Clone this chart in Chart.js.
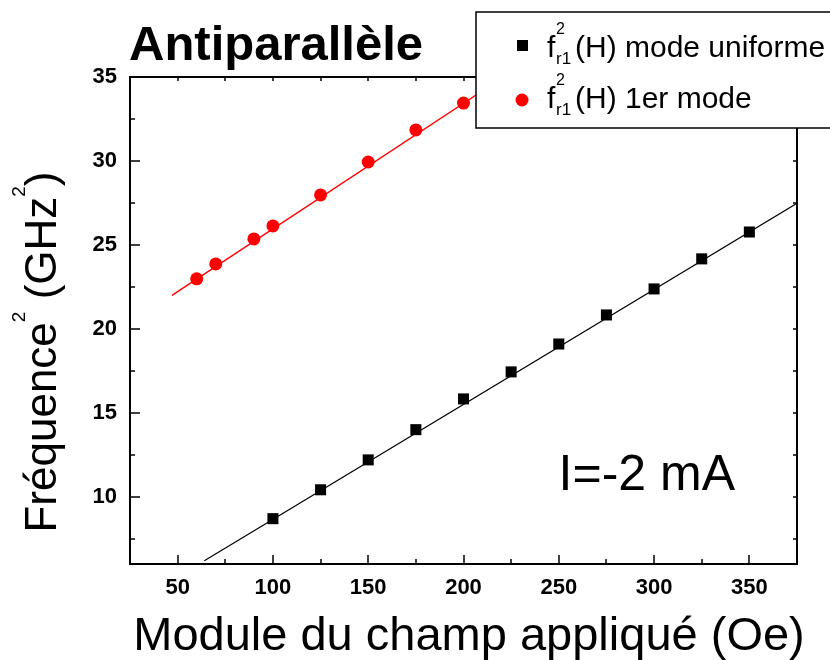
<!DOCTYPE html>
<html>
<head>
<meta charset="utf-8">
<script src="https://cdn.jsdelivr.net/npm/chart.js@4.4.1/dist/chart.umd.min.js"></script>
<style>
  body { margin: 0; background: #fff; }
</style>
</head>
<body>
<canvas id="grafik" width="830" height="660"></canvas>
<script>
const FONT = "'Liberation Sans', Arial, sans-serif";

// mode uniforme (carrés noirs)
const champUniforme = [100, 125, 150, 175, 200, 225, 250, 275, 300, 325, 350];
const freqUniforme = [8.7, 10.42, 12.2, 14.0, 15.83, 17.44, 19.1, 20.83, 22.38, 24.17, 25.77];
// 1er mode (ronds rouges)
const champPremier = [60, 70, 90, 100, 125, 150, 175, 200];
const freqPremier = [22.98, 23.87, 25.36, 26.13, 27.98, 29.94, 31.85, 33.45];
// droites d'ajustement (extrémités)
const champFitUniforme = [64, 375];
const freqFitUniforme = [6.2, 27.48];
const champFitPremier = [47, 221];
const freqFitPremier = [22.0, 35.0];

const xTicks = [50, 100, 150, 200, 250, 300, 350];
const xMinor = [75, 125, 175, 225, 275, 325];
const yTicks = [10, 15, 20, 25, 30, 35];
const yMinor = [7.5, 12.5, 17.5, 22.5, 27.5, 32.5];

function pts(xs, ys) {
    return xs.map((v, i) => ({ x: v, y: ys[i] }));
}

// texte avec indices / exposants
function drawRuns(ctx, runs, x, y) {
    let cx = x;
    runs.forEach(r => {
        ctx.font = r.size + 'px ' + FONT;
        ctx.fillText(r.t, cx, y - (r.dy || 0));
        cx += ctx.measureText(r.t).width;
    });
    return cx;
}
function runsWidth(ctx, runs) {
    let w = 0;
    runs.forEach(r => {
        ctx.font = r.size + 'px ' + FONT;
        w += ctx.measureText(r.t).width;
    });
    return w;
}

const decor = {
    id: 'decor',
    afterDraw(chart) {
        const { ctx, chartArea: a, scales: { x, y } } = chart;
        ctx.save();
        ctx.strokeStyle = '#000';
        ctx.fillStyle = '#000';

        // cadre
        ctx.lineWidth = 2;
        ctx.strokeRect(a.left, a.top, a.right - a.left, a.bottom - a.top);

        // graduations
        ctx.lineWidth = 1.5;
        ctx.beginPath();
        xTicks.forEach(v => {
            const px = Math.round(x.getPixelForValue(v));
            ctx.moveTo(px, a.bottom); ctx.lineTo(px, a.bottom - 9);
            ctx.moveTo(px, a.top); ctx.lineTo(px, a.top + 4);
        });
        xMinor.forEach(v => {
            const px = Math.round(x.getPixelForValue(v));
            ctx.moveTo(px, a.bottom); ctx.lineTo(px, a.bottom - 5);
            ctx.moveTo(px, a.top); ctx.lineTo(px, a.top + 4);
        });
        yTicks.forEach(v => {
            const py = Math.round(y.getPixelForValue(v));
            ctx.moveTo(a.left, py); ctx.lineTo(a.left + 10, py);
            ctx.moveTo(a.right, py); ctx.lineTo(a.right - 4, py);
        });
        yMinor.forEach(v => {
            const py = Math.round(y.getPixelForValue(v));
            ctx.moveTo(a.left, py); ctx.lineTo(a.left + 5, py);
            ctx.moveTo(a.right, py); ctx.lineTo(a.right - 4, py);
        });
        ctx.stroke();

        // titre
        ctx.textBaseline = 'alphabetic';
        ctx.textAlign = 'left';
        ctx.font = 'bold 49px ' + FONT;
        ctx.fillText('Antiparallèle', 129, 60);

        // courant
        ctx.font = '50px ' + FONT;
        ctx.textAlign = 'right';
        ctx.fillText('I=-2 mA', 735, 490);
        ctx.textAlign = 'left';

        // titre axe x
        ctx.font = '47px ' + FONT;
        ctx.textAlign = 'center';
        ctx.fillText('Module du champ appliqué (Oe)', 469, 650);
        ctx.textAlign = 'left';

        // titre axe y
        const yRuns = [
            { t: 'Fréquence', size: 44 },
            { t: '2', size: 19, dy: 31 },
            { t: ' (GHz', size: 44 },
            { t: '2', size: 19, dy: 31 },
            { t: ')', size: 44 }
        ];
        ctx.save();
        ctx.translate(56, 352);
        ctx.rotate(-Math.PI / 2);
        drawRuns(ctx, yRuns, -runsWidth(ctx, yRuns) / 2, 0);
        ctx.restore();

        // légende
        ctx.fillStyle = '#fff';
        ctx.fillRect(476, 12, 400, 116);
        ctx.lineWidth = 1.5;
        ctx.strokeRect(476, 12, 400, 116);
        ctx.fillStyle = '#000';
        ctx.fillRect(517, 40, 11, 11);
        ctx.fillStyle = '#ff0000';
        ctx.beginPath();
        ctx.arc(522, 100, 6.5, 0, Math.PI * 2);
        ctx.fill();
        ctx.fillStyle = '#000';
        const rows = [['(H) mode uniforme', 57], ['(H) 1er mode', 108]];
        rows.forEach(([txt, base]) => {
            drawRuns(ctx, [{ t: 'f', size: 30 }], 547, base);
            drawRuns(ctx, [{ t: '2', size: 16 }], 556, base - 23);
            drawRuns(ctx, [{ t: 'r1', size: 17 }], 556, base + 7);
            drawRuns(ctx, [{ t: txt, size: 30 }], 575, base);
        });
        ctx.restore();
    }
};

const ctx = document.getElementById('grafik').getContext('2d');
const chart = new Chart(ctx, {
    type: 'scatter',
    data: {
        datasets: [
            {
                label: 'ajustement uniforme',
                data: pts(champFitUniforme, freqFitUniforme),
                showLine: true,
                borderColor: '#000',
                borderWidth: 1.2,
                pointRadius: 0
            },
            {
                label: 'ajustement 1er mode',
                data: pts(champFitPremier, freqFitPremier),
                showLine: true,
                borderColor: '#ff0000',
                borderWidth: 1.4,
                pointRadius: 0
            },
            {
                label: 'f_r1^2(H) mode uniforme',
                data: pts(champUniforme, freqUniforme),
                pointStyle: 'rect',
                pointRadius: 7.8,
                backgroundColor: '#000',
                borderColor: '#000',
                borderWidth: 0
            },
            {
                label: 'f_r1^2(H) 1er mode',
                data: pts(champPremier, freqPremier),
                pointStyle: 'circle',
                pointRadius: 6.5,
                backgroundColor: '#ff0000',
                borderColor: '#ff0000',
                borderWidth: 0
            }
        ]
    },
    options: {
        responsive: false,
        animation: false,
        layout: { padding: { left: 0, right: 33, top: 77, bottom: 0 } },
        plugins: {
            legend: { display: false },
            tooltip: { enabled: false }
        },
        scales: {
            x: {
                type: 'linear',
                min: 25,
                max: 375,
                afterBuildTicks: s => { s.ticks = xTicks.map(v => ({ value: v })); },
                afterFit: s => { s.height = 96; },
                grid: { display: false, drawTicks: false },
                border: { display: false },
                ticks: {
                    color: '#000',
                    padding: 11,
                    maxRotation: 0,
                    font: { family: FONT, size: 22, weight: 'bold' }
                }
            },
            y: {
                type: 'linear',
                min: 6,
                max: 35,
                afterBuildTicks: s => { s.ticks = yTicks.map(v => ({ value: v })); },
                afterFit: s => { s.width = 130; },
                grid: { display: false, drawTicks: false },
                border: { display: false },
                ticks: {
                    color: '#000',
                    padding: 13,
                    font: { family: FONT, size: 22, weight: 'bold' }
                }
            }
        }
    },
    plugins: [decor]
});
</script>
</body>
</html>
